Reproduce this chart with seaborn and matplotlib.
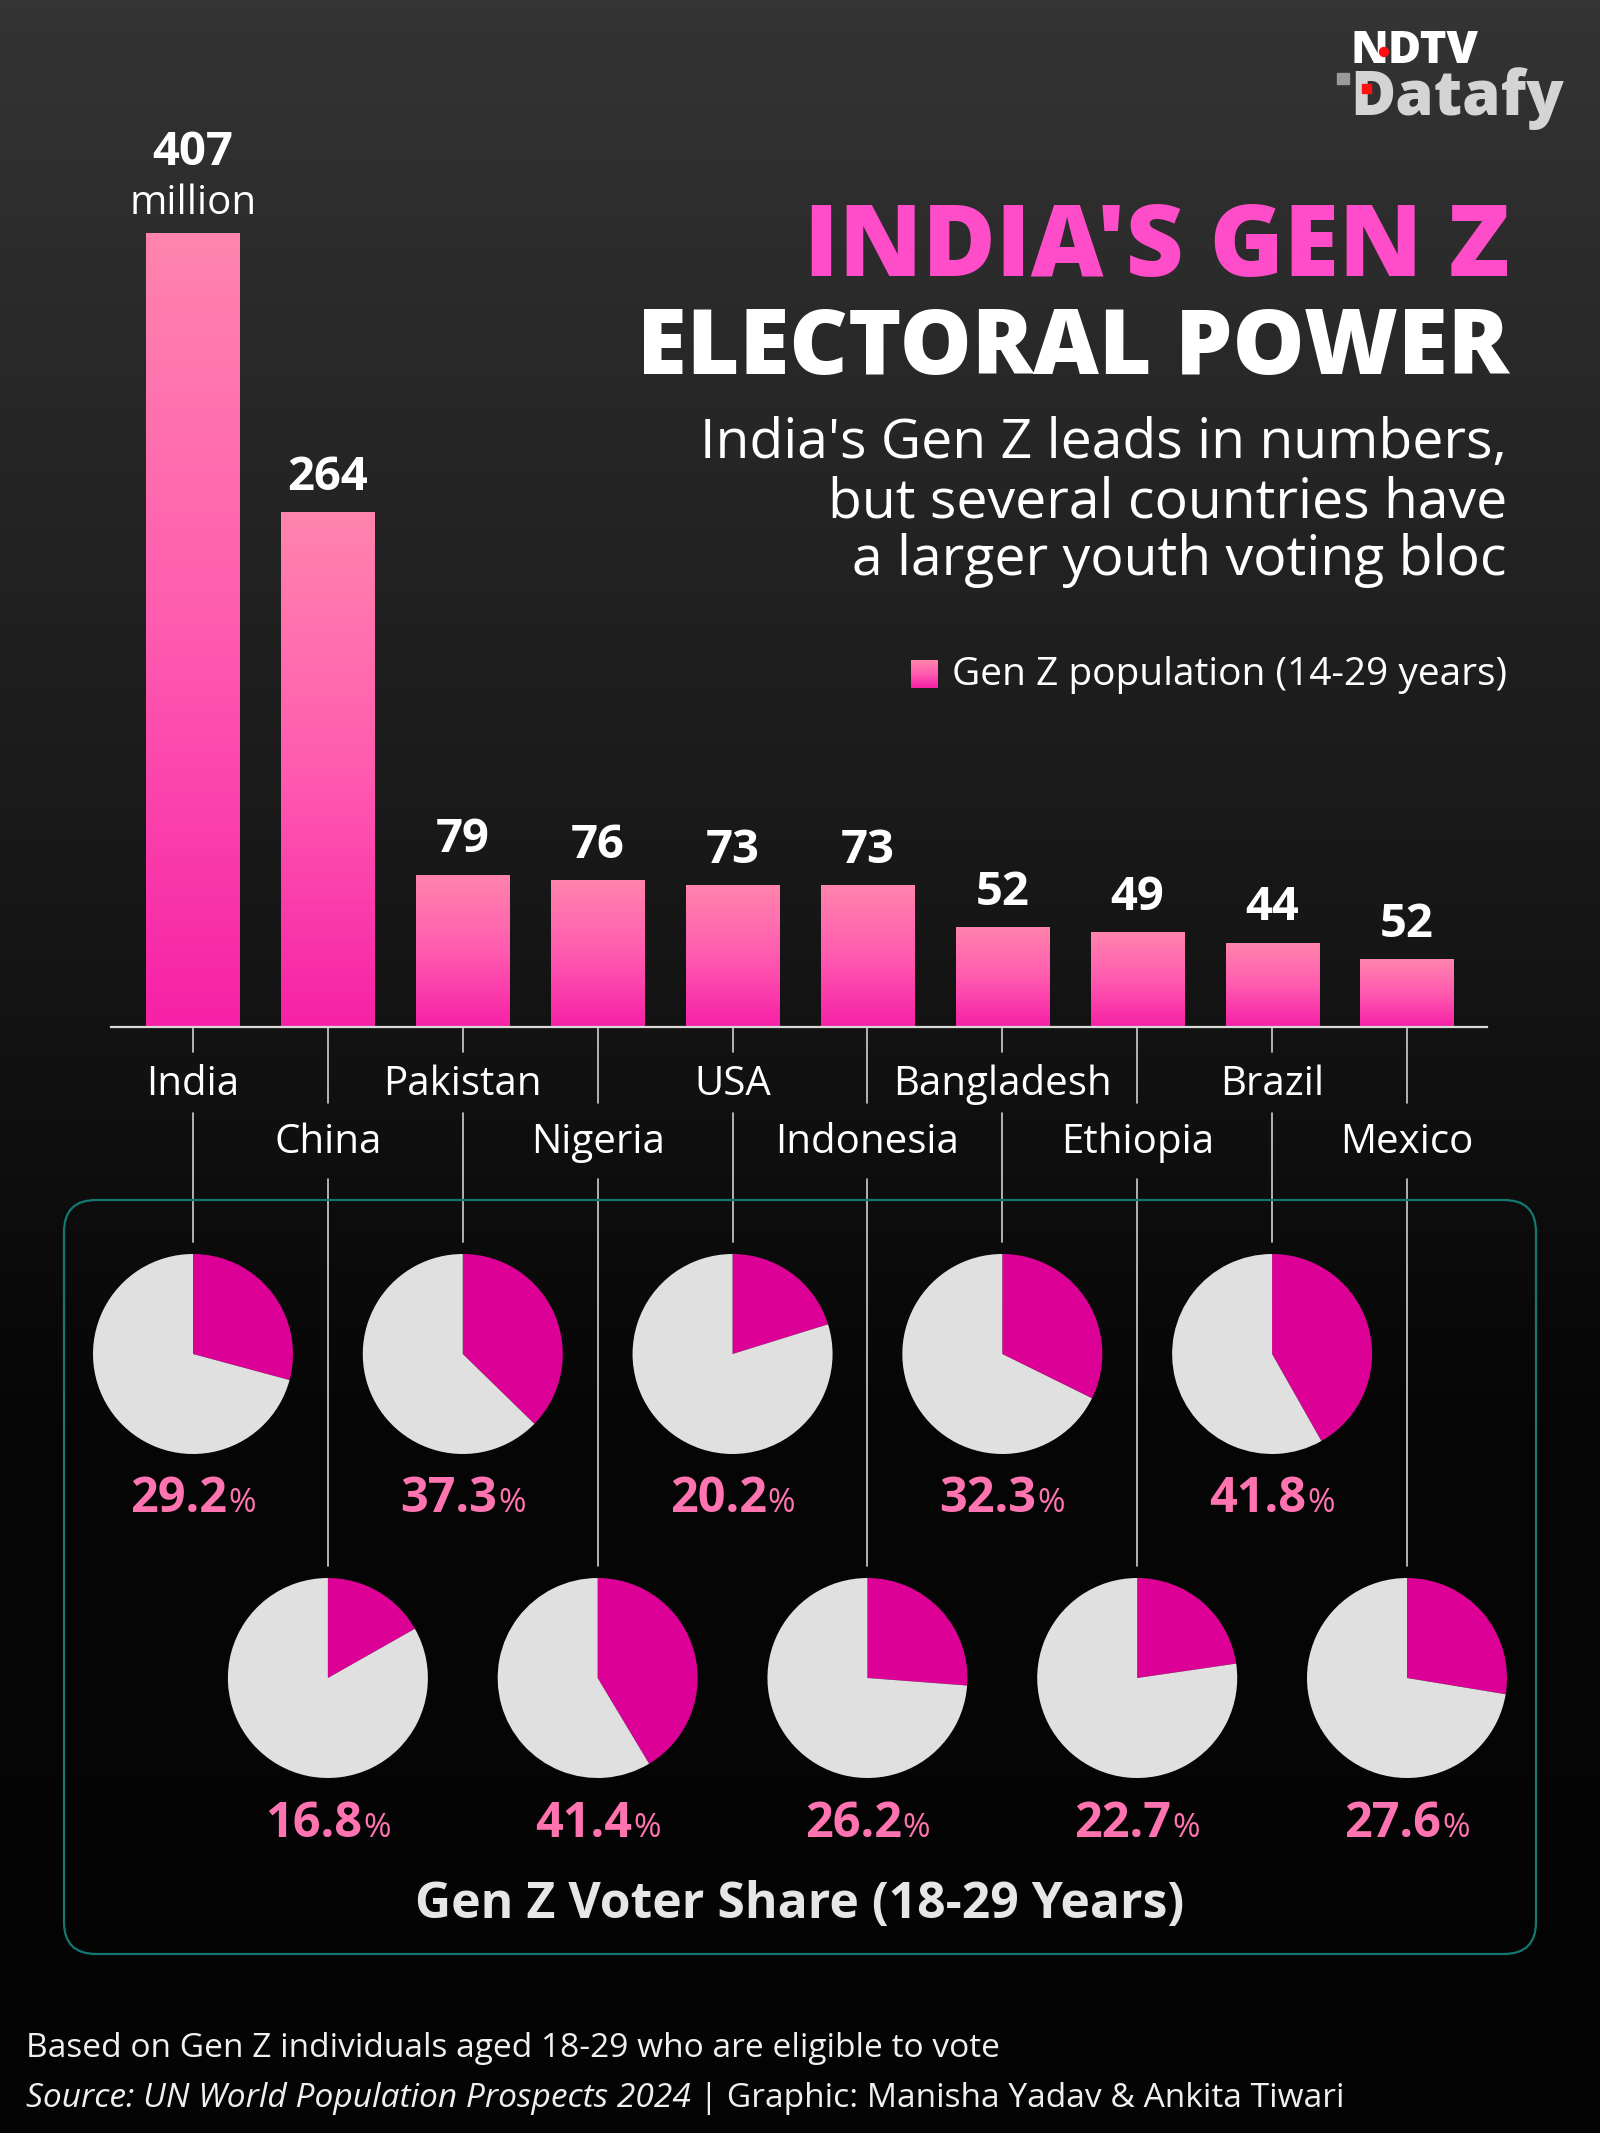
import numpy as np
import pandas as pd
import matplotlib
matplotlib.use("Agg")
import matplotlib.pyplot as plt
import seaborn as sns
from matplotlib.patches import FancyBboxPatch, Rectangle, Circle
from matplotlib.colors import LinearSegmentedColormap

# ---------------- data ----------------
countries = ["India", "China", "Pakistan", "Nigeria", "USA", "Indonesia",
             "Bangladesh", "Ethiopia", "Brazil", "Mexico"]
# Gen Z population (millions) as drawn by the bars
genz_pop = [407, 264, 78, 75, 72.5, 72.5, 51, 48.5, 43, 34.5]
# value labels printed above the bars
pop_labels = ["407", "264", "79", "76", "73", "73", "52", "49", "44", "52"]
unit_label = "million"
# Gen Z voter share (% of voters aged 18-29)
voter_share = [29.2, 16.8, 37.3, 41.4, 20.2, 26.2, 32.3, 22.7, 41.8, 27.6]

title_1 = "INDIA'S GEN Z"
title_2 = "ELECTORAL POWER"
subtitle = ["India's Gen Z leads in numbers,",
            "but several countries have",
            "a larger youth voting bloc"]
legend_label = "Gen Z population (14-29 years)"
pie_title = "Gen Z Voter Share (18-29 Years)"
note = "Based on Gen Z individuals aged 18-29 who are eligible to vote"
source_it = "Source: UN World Population Prospects 2024"
source_rest = " | Graphic: Manisha Yadav & Ankita Tiwari"

# ---------------- style ----------------
W, H, DPI = 1600, 2133, 100
sns.set_theme(style="white")
plt.rcParams['font.family'] = ['Open Sans', 'DejaVu Sans']

PINK_TITLE = "#FF4CC8"
MAGENTA = "#DC0096"
GREY = "#E0E0E0"
PCT = "#FF74B0"
TEAL = "#137872"

fig = plt.figure(figsize=(W / DPI, H / DPI), dpi=DPI)
renderer = fig.canvas.get_renderer()


def fit(t, width):
    w = t.get_window_extent(renderer).width
    t.set_fontsize(t.get_fontsize() * width / w)
    return t


def twidth(t):
    return t.get_window_extent(renderer).width


# background
bg = fig.add_axes([0, 0, 1, 1], zorder=0)
bg_cmap = LinearSegmentedColormap.from_list("bg", ["#343434", "#1d1d1d", "#060606", "#040404"])
bg.imshow(np.linspace(0, 1, 512).reshape(-1, 1), cmap=bg_cmap,
          extent=[0, W, H, 0], aspect="auto", zorder=0)
bg.set_xlim(0, W)
bg.set_ylim(H, 0)
bg.axis("off")

# ---------------- bar chart ----------------
L, R = 111, 1487
top_px, base_px = 100, 1027
first_c, last_c = 193, 1407
spacing = (last_c - first_c) / (len(countries) - 1)
px_per_unit = (base_px - 234) / genz_pop[0]

ax = fig.add_axes([L / W, 1 - base_px / H, (R - L) / W, (base_px - top_px) / H], zorder=2)
ax.patch.set_alpha(0)
df = pd.DataFrame({"country": countries, "pop": genz_pop})
sns.barplot(data=df, x="country", y="pop", ax=ax, color="#FF4FB0",
            width=0.69, saturation=1)
xlim = (-(first_c - L) / spacing, (R - first_c) / spacing)
ylim = (0, (base_px - top_px) / px_per_unit)

bar_cmap = LinearSegmentedColormap.from_list("bar", ["#F621A7", "#FF5BB0", "#FF84AD"])
for p in list(ax.patches):
    bx, by, bw, bh = p.get_x(), p.get_y(), p.get_width(), p.get_height()
    ax.imshow(np.linspace(0, 1, 256).reshape(-1, 1), cmap=bar_cmap, origin="lower",
              extent=[bx, bx + bw, by, by + bh], aspect="auto", zorder=2)
    p.set_visible(False)
ax.set_xlim(*xlim)
ax.set_ylim(*ylim)
ax.set_xticks([])
ax.set_yticks([])
ax.set_xlabel("")
ax.set_ylabel("")
for s in ["left", "right", "top"]:
    ax.spines[s].set_visible(False)
ax.spines["bottom"].set_color("#D9D9D9")
ax.spines["bottom"].set_linewidth(1.6)

for i, (h, lab) in enumerate(zip(genz_pop, pop_labels)):
    off = 69 if i == 0 else 23
    ax.annotate(lab, (i, h), xytext=(0, off * 72 / DPI), textcoords="offset points",
                ha="center", va="baseline", fontsize=34, fontweight="bold", color="white")
    if i == 0:
        ax.annotate(unit_label, (i, h), xytext=(0, 20 * 72 / DPI), textcoords="offset points",
                    ha="center", va="baseline", fontsize=29, color="white")

centers = [ax.transData.transform((i, 0))[0] for i in range(len(countries))]

# ---------------- overlay (pixel coords) ----------------
ov = fig.add_axes([0, 0, 1, 1], zorder=5)
ov.patch.set_alpha(0)
ov.axis("off")

label_base = [1095, 1153]
segs = [[(1028, 1052), (1113, 1242)], [(1028, 1103), (1179, 1566)]]
for i, c in enumerate(countries):
    row = i % 2
    for y0, y1 in segs[row]:
        bg.plot([centers[i], centers[i]], [y0, y1], color="#CFCFCF", lw=1.2, zorder=1)
    ov.text(centers[i], label_base[row], c, ha="center", va="baseline",
            fontsize=29, color="white")

# box
box = FancyBboxPatch((64, 1200), 1472, 754, boxstyle="round,pad=0,rounding_size=32",
                     edgecolor=TEAL, facecolor="none", lw=1.6, zorder=2)
bg.add_patch(box)

# pies
pie_y = [1354, 1678]
pct_base = [1512, 1837]
RP = 100
for i, s in enumerate(voter_share):
    cx, cy = centers[i], pie_y[i % 2]
    pa = fig.add_axes([(cx - RP) / W, 1 - (cy + RP) / H, 2 * RP / W, 2 * RP / H], zorder=3)
    pa.pie([s, 100 - s], colors=[MAGENTA, GREY], startangle=90, counterclock=False,
           radius=1, wedgeprops=dict(linewidth=0))
    pa.set_xlim(-1, 1)
    pa.set_ylim(-1, 1)
    pa.set_aspect("equal")
    pa.axis("off")
    t1 = ov.text(cx, pct_base[i % 2], f"{s:.1f}", ha="left", va="baseline",
                 fontsize=35, fontweight="bold", color=PCT)
    t2 = ov.text(cx, pct_base[i % 2], "%", ha="left", va="baseline",
                 fontsize=24, color=PCT)
    w1, w2 = twidth(t1), twidth(t2)
    start = cx - (w1 + w2 + 1) / 2
    t1.set_x(start)
    t2.set_x(start + w1 + 1)

fit(ov.text(800, 1918, pie_title, ha="center", va="baseline", fontsize=33,
            fontweight="bold", color="#E6E6E6"), 771)

# titles
fit(ov.text(1509, 276, title_1, ha="right", va="baseline", fontsize=70,
            fontweight="heavy", color=PINK_TITLE), 706)
fit(ov.text(1509, 374, title_2, ha="right", va="baseline", fontsize=60,
            fontweight="heavy", color="white"), 872)
sub_t = []
for k, (line, yb) in enumerate(zip(subtitle, [458, 517, 575])):
    sub_t.append(ov.text(1507, yb, line, ha="right", va="baseline", fontsize=38, color="white"))
fit(sub_t[0], 805)
for t in sub_t[1:]:
    t.set_fontsize(sub_t[0].get_fontsize())

# legend
ov.imshow(np.linspace(1, 0, 64).reshape(-1, 1), cmap=bar_cmap, origin="upper",
          extent=[911, 938, 688, 660], aspect="auto", zorder=3)
fit(ov.text(1507, 685, legend_label, ha="right", va="baseline", fontsize=25,
            color="white"), 556)

# logo
fit(ov.text(1350, 63, "NDTV", ha="left", va="baseline", fontsize=22,
            fontweight="heavy", color="white"), 128)
ov.add_patch(Circle((1384, 52), 4.5, color="#FF1010", zorder=6))
fit(ov.text(1350, 115, "Datafy", ha="left", va="baseline", fontsize=40,
            fontweight="heavy", color="#D4D4D4"), 213)
ov.add_patch(Rectangle((1337, 73), 12, 11, color="#9A9A9A", zorder=6))
ov.add_patch(Rectangle((1362, 84), 9, 9, color="#FF1010", zorder=6))

# footer
f1 = fit(ov.text(26, 2057, note, ha="left", va="baseline", fontsize=22, color="#F0F0F0"), 972)
fs = f1.get_fontsize()
f2 = ov.text(26, 2107, source_it, ha="left", va="baseline", fontsize=fs,
             style="italic", color="#F0F0F0")
f3 = ov.text(26 + twidth(f2), 2107, source_rest, ha="left", va="baseline",
             fontsize=fs, color="#F0F0F0")

ov.set_xlim(0, W)
ov.set_ylim(H, 0)

fig.savefig("out.png", dpi=DPI)
